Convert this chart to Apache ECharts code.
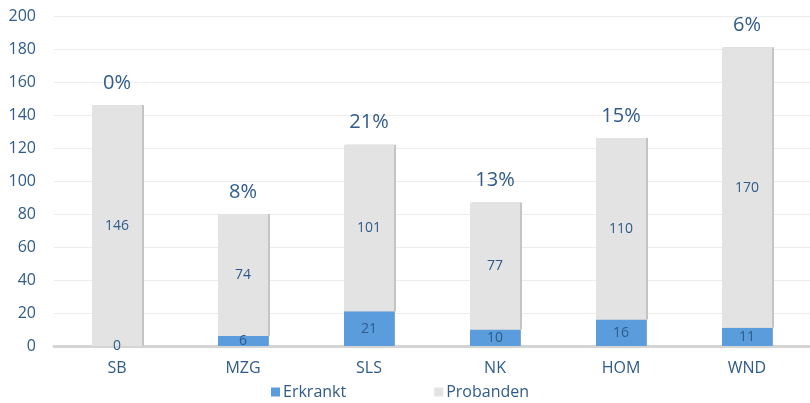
<!DOCTYPE html>
<html>
<head>
<meta charset="utf-8">
<script src="https://cdn.jsdelivr.net/npm/echarts@6/dist/echarts.min.js"></script>
<style>
  html, body { margin: 0; padding: 0; background: #fff; }
  #chart { width: 810px; height: 403px; }
</style>
</head>
<body>
<div id="chart"></div>
<script>
// Daten
const categories = ['SB', 'MZG', 'SLS', 'NK', 'HOM', 'WND']
const erkrankt = [0, 6, 21, 10, 16, 11]
const probanden = [146, 74, 101, 77, 110, 170]
const quote = ['0%', '8%', '21%', '13%', '15%', '6%']

const textColor = '#2f5b8a'
const font = 'Open Sans'

const myChart = echarts.init(document.getElementById('chart'))

const option = {
  animation: false,
  textStyle: { fontFamily: font },
  grid: {
    left: 54,
    top: 16,
    width: 773,
    height: 330
  },
  legend: {
    bottom: -2,
    left: 266,
    itemGap: 88,
    itemWidth: 9,
    itemHeight: 9,
    icon: 'rect',
    textStyle: { color: textColor, fontSize: 16, fontFamily: font, padding: [0, 0, 0, -2] },
    data: ['Erkrankt', 'Probanden']
  },
  xAxis: {
    type: 'category',
    data: categories,
    axisTick: { show: false },
    axisLine: { lineStyle: { color: '#d4d4d4', width: 3 } },
    axisLabel: { color: textColor, fontSize: 16, margin: 14, fontFamily: font }
  },
  yAxis: {
    type: 'value',
    min: 0,
    max: 200,
    interval: 20,
    axisLine: { show: false },
    axisTick: { show: false },
    splitLine: { lineStyle: { color: '#ececec', width: 1 } },
    axisLabel: { color: textColor, fontSize: 16, margin: 18, fontFamily: font }
  },
  series: [
    {
      name: 'Erkrankt',
      type: 'bar',
      stack: 'total',
      barWidth: 50,
      data: erkrankt,
      itemStyle: {
        color: '#5b9ddc',
        shadowColor: '#7fa9d2',
        shadowOffsetX: 1,
        shadowBlur: 0
      },
      label: {
        show: true,
        position: 'inside',
        color: textColor,
        fontSize: 14,
        fontFamily: font
      }
    },
    {
      name: 'Probanden',
      type: 'bar',
      stack: 'total',
      barWidth: 50,
      data: probanden,
      itemStyle: {
        color: '#e3e3e3',
        shadowColor: '#c4c4c4',
        shadowOffsetX: 2,
        shadowBlur: 0
      },
      label: {
        show: true,
        position: 'inside',
        color: textColor,
        fontSize: 14,
        fontFamily: font
      }
    },
    {
      name: 'Quote',
      type: 'bar',
      stack: 'total',
      barWidth: 50,
      data: probanden.map(() => 0),
      itemStyle: { color: 'transparent' },
      label: {
        show: true,
        position: 'top',
        distance: 12,
        color: textColor,
        fontSize: 20,
        fontFamily: font,
        formatter: (p) => quote[p.dataIndex]
      },
      tooltip: { show: false }
    }
  ]
}

myChart.setOption(option)
</script>
</body>
</html>
